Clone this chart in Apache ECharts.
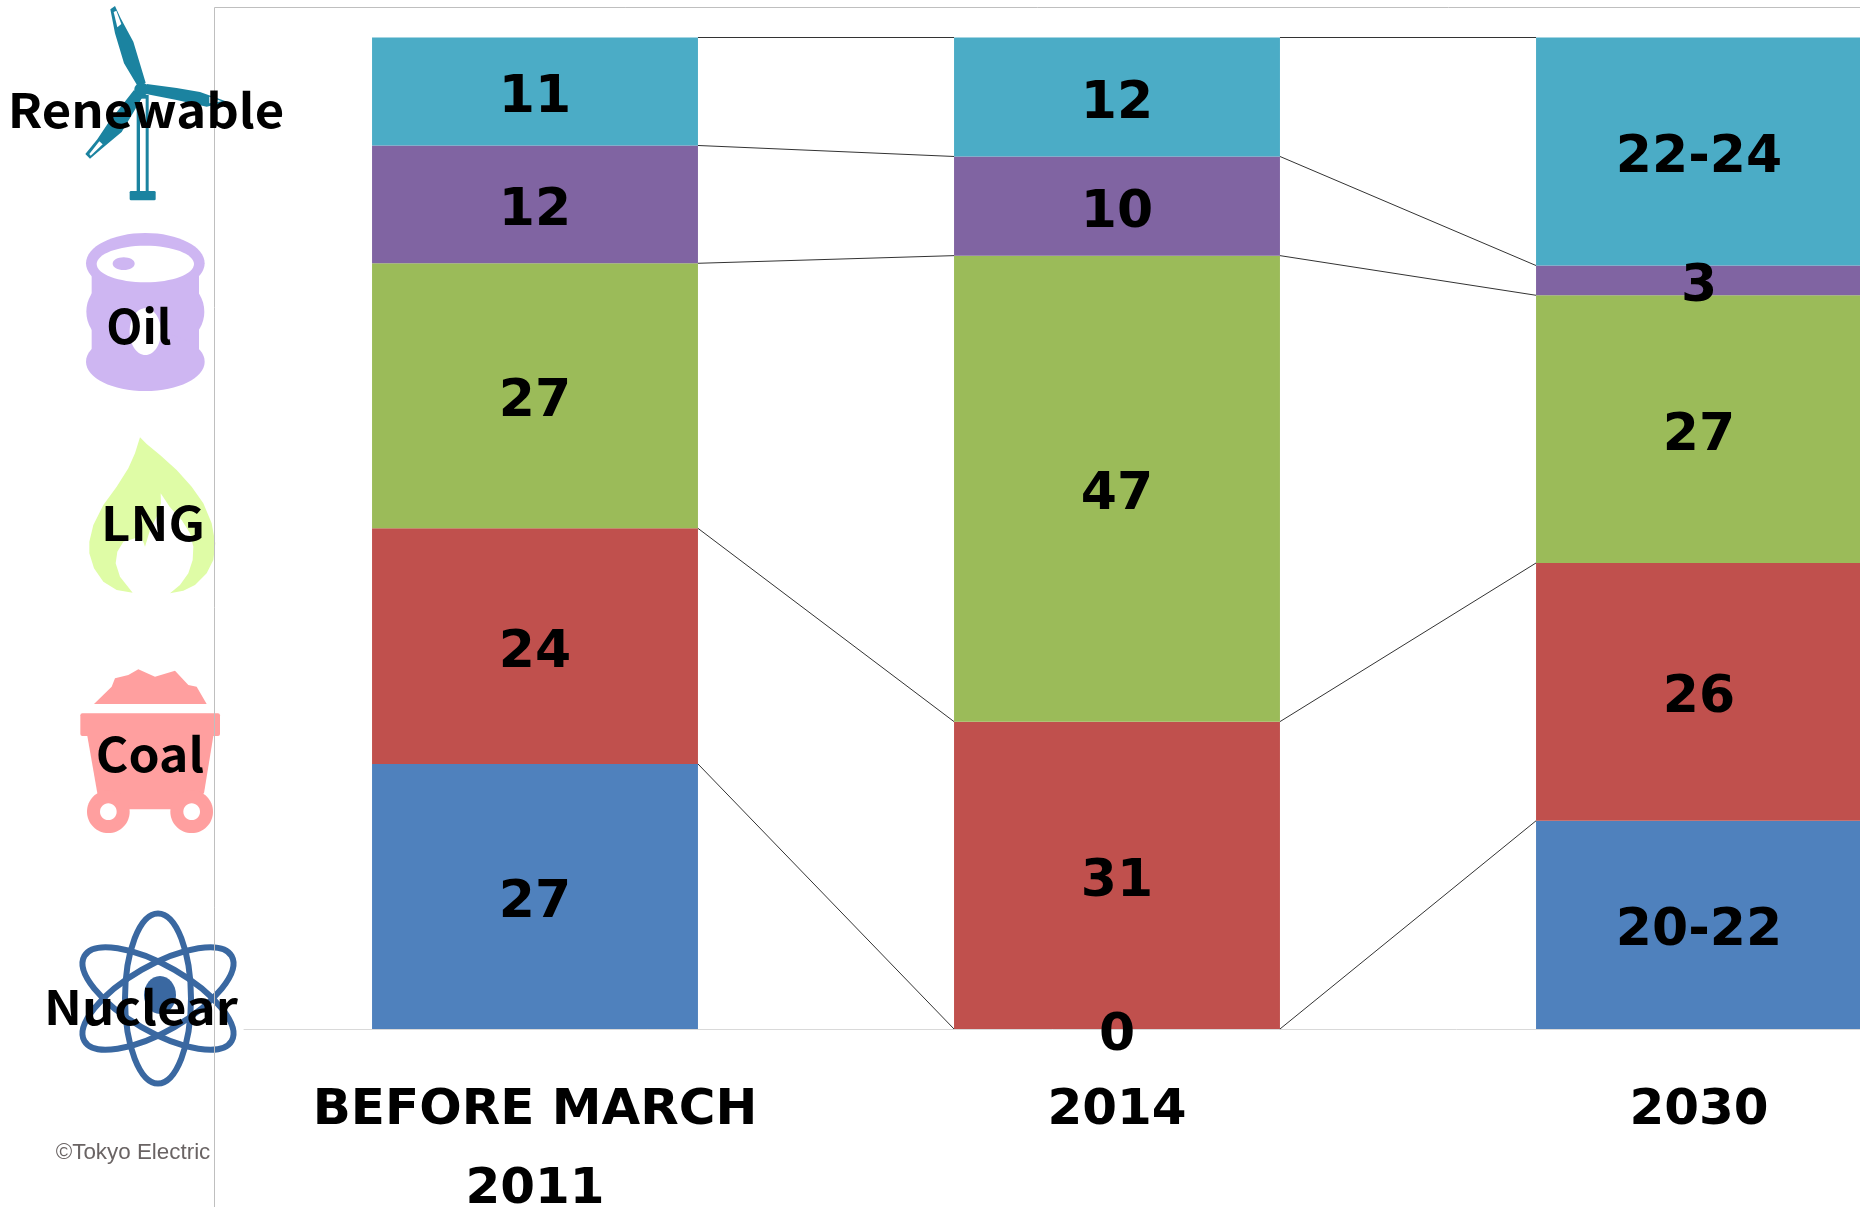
<!DOCTYPE html>
<html>
<head>
<meta charset="UTF-8">
<title>Energy mix</title>
<script src="https://cdn.jsdelivr.net/npm/echarts@6/dist/echarts.min.js"></script>
<style>
html, body { margin: 0; background: #fff; }
#chart { width: 1860px; height: 1207px; }
</style>
</head>
<body>
<div id="chart"></div>
<script>
var categories = ["BEFORE MARCH\n2011", "2014", "2030"];

// midpoint of a range is used for the bar height, the label keeps the range
var nuclear = [27, 0, 21];
var coal = [24, 31, 26];
var lng = [27, 47, 27];
var oil = [12, 10, 3];
var renewable = [11, 12, 23];

var nuclearLabels = ["27", "0", "20-22"];
var coalLabels = ["24", "31", "26"];
var lngLabels = ["27", "47", "27"];
var oilLabels = ["12", "10", "3"];
var renewableLabels = ["11", "12", "22-24"];

var seriesNames = ["Nuclear", "Coal", "LNG", "Oil", "Renewable"];
var seriesColors = ["#4f81bd", "#c0504d", "#9bbb59", "#8064a2", "#4bacc6"];
var allValues = [nuclear, coal, lng, oil, renewable];
var allLabels = [nuclearLabels, coalLabels, lngLabels, oilLabels, renewableLabels];

var BAR_SHARE = 0.56;
var FONT = '"Noto Sans CJK JP", "Noto Sans", sans-serif';
var WIDE_FONT = '"DejaVu Sans", sans-serif';

// 100% stacked: every column is scaled to its own total
var totals = categories.map(function (c, i) {
    return allValues.reduce(function (sum, arr) { return sum + arr[i]; }, 0);
});

function toPercent(arr) {
    return arr.map(function (v, i) { return v / totals[i] * 100; });
}

var barSeries = allValues.map(function (arr, k) {
    return {
        name: seriesNames[k],
        type: "bar",
        stack: "mix",
        barWidth: (BAR_SHARE * 100) + "%",
        itemStyle: { color: seriesColors[k] },
        data: toPercent(arr),
        z: 2,
        label: {
            show: true,
            position: "inside",
            color: "#000",
            fontFamily: WIDE_FONT,
            fontWeight: "bold",
            fontSize: 52,
            formatter: function (p) { return allLabels[k][p.dataIndex]; }
        },
        labelLayout: { hideOverlap: false, dy: 7 }
    };
});

// connector lines between the columns, one per boundary per gap
var connectorData = [];
var running = categories.map(function () { return 0; });
allValues.forEach(function (arr) {
    var pct = toPercent(arr);
    running = running.map(function (r, i) { return r + pct[i]; });
    for (var g = 0; g < categories.length - 1; g++) {
        connectorData.push([g, g + 1, running[g], running[g + 1]]);
    }
});

var connectorSeries = {
    type: "custom",
    silent: true,
    z: 3,
    clip: false,
    data: connectorData,
    encode: { x: 0, y: 2 },
    renderItem: function (params, api) {
        var half = api.size([1, 0])[0] * BAR_SHARE / 2;
        var from = api.coord([api.value(0), api.value(2)]);
        var to = api.coord([api.value(1), api.value(3)]);
        return {
            type: "line",
            shape: { x1: from[0] + half, y1: from[1], x2: to[0] - half, y2: to[1] },
            style: { stroke: "#333", lineWidth: 1 }
        };
    }
};

function poly(points, fill, z) {
    return { type: "polygon", shape: { points: points }, style: { fill: fill }, z: z || 1 };
}

function ell(cx, cy, rx, ry, fill, z) {
    return { type: "ellipse", shape: { cx: cx, cy: cy, rx: rx, ry: ry }, style: { fill: fill }, z: z || 1 };
}

function sideLabel(text, x, y, stretch) {
    return {
        type: "text",
        x: x,
        y: y,
        scaleX: stretch,
        z: 20,
        style: {
            text: text,
            fill: "#000",
            font: "bold 47px " + FONT,
            align: "center",
            verticalAlign: "middle"
        }
    };
}

var TURBINE = "#1b83a0";
var BARREL = "#ceb6f2";
var FLAME = "#dffca6";
var CART = "#ff9f9f";
var ATOM = "#3a68a1";

// icons are sketched at 3x, the groups scale them back down
var turbineIcon = {
    type: "group", x: 0, y: 0, scaleX: 1 / 3, scaleY: 1 / 3,
    children: [
        poly([[331,28],[345,18],[362,55],[400,125],[437,248],[415,262],[372,190],[345,100]], TURBINE),
        poly([[341,36],[349,32],[364,72],[352,82]], "#fff"),
        poly([[440,252],[530,264],[600,276],[682,305],[620,320],[530,300],[438,282]], TURBINE),
        poly([[628,290],[665,304],[628,310]], "#fff"),
        poly([[402,270],[428,290],[365,396],[305,446],[270,476],[256,462],[292,418],[325,368]], TURBINE),
        poly([[268,462],[298,424],[308,433],[272,467]], "#fff"),
        ell(425, 268, 22, 20, TURBINE),
        { type: "rect", shape: { x: 410, y: 285, width: 36, height: 292 }, style: { fill: TURBINE } },
        { type: "rect", shape: { x: 420, y: 296, width: 17, height: 278 }, style: { fill: "#fff" } },
        { type: "rect", shape: { x: 389, y: 573, width: 78, height: 28, r: 4 }, style: { fill: TURBINE } }
    ]
};

var barrelIcon = {
    type: "group", x: 0, y: 0, scaleX: 1 / 3, scaleY: 1 / 3,
    children: [
        ell(436, 790, 178, 91, BARREL),
        { type: "rect", shape: { x: 275, y: 800, width: 322, height: 290 }, style: { fill: BARREL } },
        ell(436, 935, 177, 130, BARREL),
        ell(436, 1085, 178, 88, BARREL),
        ell(436, 792, 146, 55, "#fff"),
        ell(371, 791, 33, 19, BARREL),
        ell(436, 995, 47, 70, "#fff")
    ]
};

var flameIcon = {
    type: "group", x: 0, y: 420, scaleX: 1 / 3, scaleY: 1 / 3,
    children: [
        poly([[420,52],[440,72],[480,105],[530,150],[575,200],[610,250],[635,310],[646,370],[640,420],[620,460],[585,495],[550,512],[510,520],[540,495],[565,460],[578,420],[580,380],[570,340],[545,300],[510,262],[482,220],[483,250],[470,290],[450,330],[435,380],[428,360],[405,355],[370,365],[352,395],[347,430],[360,470],[398,518],[350,510],[310,485],[282,445],[268,400],[268,365],[280,315],[310,255],[350,200],[385,145],[405,100]], FLAME)
    ]
};

var cartIcon = {
    type: "group", x: 0, y: 420, scaleX: 1 / 3, scaleY: 1 / 3,
    children: [
        poly([[282,852],[335,800],[345,775],[385,765],[415,748],[465,770],[525,752],[565,795],[590,800],[620,852]], CART),
        { type: "rect", shape: { x: 241, y: 880, width: 419, height: 68, r: 6 }, style: { fill: CART } },
        poly([[262,948],[640,948],[612,1120],[530,1168],[370,1168],[292,1120]], CART),
        ell(325, 1175, 64, 64, CART),
        ell(575, 1175, 64, 64, CART),
        ell(325, 1175, 25, 25, "#fff"),
        ell(575, 1175, 25, 25, "#fff")
    ]
};

function orbit(rotation) {
    return {
        type: "ellipse",
        x: 158,
        y: 998.5,
        rotation: rotation,
        shape: { cx: 0, cy: 0, rx: 33, ry: 85 },
        style: { fill: "none", stroke: ATOM, lineWidth: 6 },
        z: 1
    };
}

var graphics = [
    turbineIcon, barrelIcon, flameIcon, cartIcon,
    orbit(0), orbit(Math.PI / 3), orbit(-Math.PI / 3),
    ell(160, 995, 16, 19, ATOM),
    // chart frame
    { type: "line", z: 5, shape: { x1: 214.5, y1: 7.5, x2: 1860, y2: 7.5 }, style: { stroke: "#bfbfbf", lineWidth: 1 } },
    { type: "line", z: 5, shape: { x1: 214.5, y1: 7.5, x2: 214.5, y2: 1207 }, style: { stroke: "#bfbfbf", lineWidth: 1 } },
    sideLabel("Renewable", 146, 110, 1.08),
    sideLabel("Oil", 139, 326, 1),
    sideLabel("LNG", 153, 523, 1.08),
    sideLabel("Coal", 150, 754, 1.06),
    sideLabel("Nuclear", 141, 1007, 1.08),
    {
        type: "text", x: 133, y: 1153, z: 20,
        style: {
            text: "©Tokyo Electric",
            fill: "#6a6464",
            font: '22.4px "Liberation Sans", sans-serif',
            align: "center",
            verticalAlign: "middle"
        }
    }
];

var chart = echarts.init(document.getElementById("chart"));
chart.setOption({
    backgroundColor: "#fff",
    animation: false,
    grid: { left: 244, top: 37.5, width: 1746, height: 991.5, outerBoundsMode: "none" },
    xAxis: {
        type: "category",
        data: categories,
        axisTick: { show: false },
        axisLine: { lineStyle: { color: "#d9d9d9", width: 1 } },
        axisLabel: {
            color: "#000",
            fontFamily: WIDE_FONT,
            fontWeight: "bold",
            fontSize: 50,
            lineHeight: 79,
            margin: 43,
            interval: 0
        }
    },
    yAxis: { type: "value", min: 0, max: 100, show: false },
    series: barSeries.concat([connectorSeries]),
    graphic: graphics
});
</script>
</body>
</html>
